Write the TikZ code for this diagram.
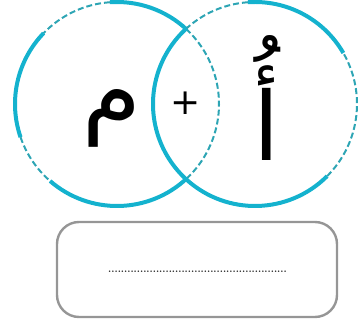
\documentclass[tikz,border=0pt]{standalone}
\usepackage{fontspec}
\usepackage{tikz}
\usetikzlibrary{positioning}
\TeXXeTstate=1
\newfontfamily\arabicfont[Script=Arabic]{DejaVu Sans}
\definecolor{ringcyan}{RGB}{20,178,206}
\definecolor{ringteal}{RGB}{45,165,180}
\definecolor{boxgray}{RGB}{150,150,150}
\tikzset{
  ringsolid/.style={draw=ringcyan, line width=4pt},
  ringdash/.style={draw=ringteal, line width=2pt, dash pattern=on 6pt off 3pt},
  letter/.style={font=\arabicfont\fontsize{95}{95}\selectfont, inner sep=0pt},
  plussign/.style={font=\arabicfont\fontsize{36}{36}\selectfont, inner sep=0pt},
  answerbox/.style={draw=boxgray, line width=2.4pt, rounded corners=22pt,
    minimum width=280pt, minimum height=95pt},
  dotline/.style={font=\bfseries\fontsize{10}{10}\selectfont, inner sep=0pt, text=black!85}
}
\begin{document}
\begin{tikzpicture}[x=1pt, y=1pt]
\useasboundingbox (0,0) rectangle (359,332);

% -------- two rings --------
\coordinate (cl) at (117,228);
\coordinate (cr) at (255,228);
\def\rr{102}

% left ring
\draw[ringsolid] ([shift={(47:\rr)}]cl) arc[start angle=47, end angle=94, radius=\rr];
\draw[ringdash]  ([shift={(94:\rr)}]cl) arc[start angle=94, end angle=136, radius=\rr];
\draw[ringsolid] ([shift={(136:\rr)}]cl) arc[start angle=136, end angle=199, radius=\rr];
\draw[ringdash]  ([shift={(199:\rr)}]cl) arc[start angle=199, end angle=229, radius=\rr];
\draw[ringsolid] ([shift={(229:\rr)}]cl) arc[start angle=229, end angle=313, radius=\rr];
\draw[ringdash]  ([shift={(313:\rr)}]cl) arc[start angle=313, end angle=407, radius=\rr];

% right ring
\draw[ringsolid] ([shift={(132:\rr)}]cr) arc[start angle=132, end angle=228, radius=\rr];
\draw[ringsolid] ([shift={(228:\rr)}]cr) arc[start angle=228, end angle=315, radius=\rr];
\draw[ringdash]  ([shift={(315:\rr)}]cr) arc[start angle=315, end angle=390, radius=\rr];
\draw[ringsolid] ([shift={(30:\rr)}]cr) arc[start angle=30, end angle=94, radius=\rr];
\draw[ringdash]  ([shift={(94:\rr)}]cr) arc[start angle=94, end angle=132, radius=\rr];

% -------- letters --------
\node[letter] (meem) at (112,214) {\beginR م\endR};
\node[letter] (alif) at (267,234) {\beginR أُ\endR};
\node[plussign] (plus) at (186,229) {+};

% -------- answer box --------
\node[answerbox] (answer) at (197,62.5) {};
\node[dotline] (dots) at (197.5,60) {........................................................};

\end{tikzpicture}
\end{document}
